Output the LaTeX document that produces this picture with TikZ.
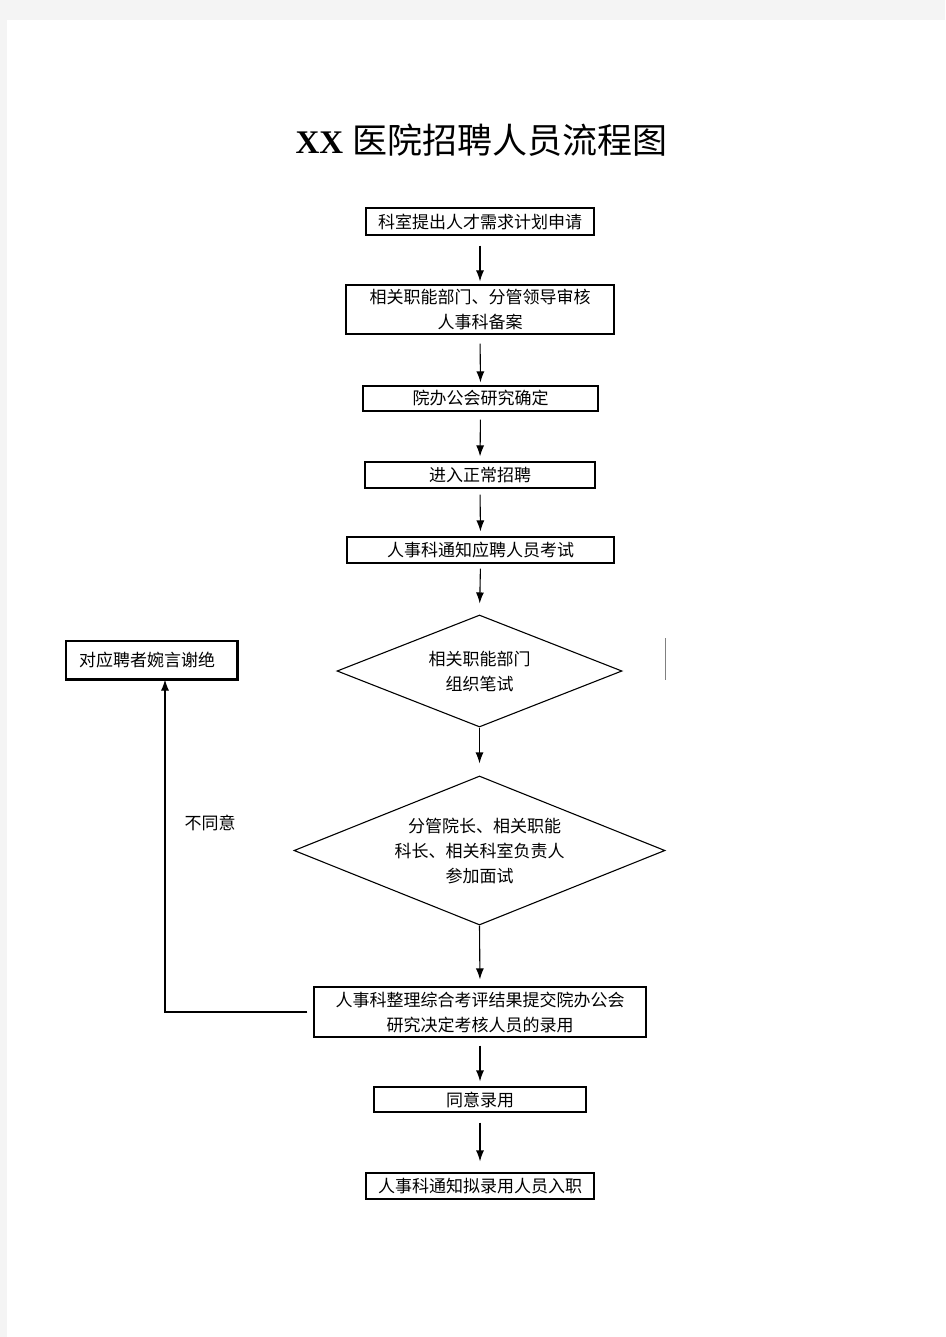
\documentclass[tikz,border=0pt]{standalone}
\usepackage{fontspec}
\setmainfont{Liberation Serif}
\newfontfamily\cjk{Noto Sans CJK SC}
\usetikzlibrary{shapes.geometric,arrows.meta}
\definecolor{pagegray}{HTML}{F4F4F4}

\begin{document}
\begin{tikzpicture}[x=1pt,y=-1pt,line width=1.1pt,>={Latex[length=11pt,width=8pt]},
stepbox/.style={draw,rectangle,inner sep=2pt,align=center,font=\cjk\fontsize{17}{25}\selectfont},
decision/.style={draw,diamond,inner sep=0pt,align=center,font=\cjk\fontsize{17}{25}\selectfont},
note/.style={inner sep=0pt,font=\cjk\fontsize{17}{25}\selectfont}]

% page
\fill[pagegray] (0,0) rectangle (945,1337);
\fill[white] (7,20) rectangle (945,1337);
\useasboundingbox (0,0) rectangle (945,1337);

\draw (481.5,140) node[inner sep=0pt] (title) {{\fontsize{33}{40}\selectfont\bfseries XX}\hspace{9pt}{\cjk\fontsize{35}{40}\selectfont 医院招聘人员流程图}};

\draw (480,221.5) node[stepbox,minimum width=228pt,minimum height=27pt] (apply) {科室提出人才需求计划申请};
\draw (480,309.5) node[stepbox,minimum width=268pt,minimum height=49pt] (audit) {相关职能部门、分管领导审核\\人事科备案};
\draw (480.5,398.5) node[stepbox,minimum width=235pt,minimum height=25pt] (office) {院办公会研究确定};
\draw (480,475) node[stepbox,minimum width=230pt,minimum height=26pt] (enter) {进入正常招聘};
\draw (480.5,550) node[stepbox,minimum width=267pt,minimum height=26pt] (notify) {人事科通知应聘人员考试};
\draw (479.5,671) node[decision,shape aspect=2.54,minimum width=285pt,minimum height=112pt] (written) {相关职能部门\\组织笔试};
\draw (479.5,850.5) node[decision,shape aspect=2.49,minimum width=371pt,minimum height=149pt] (interview) {\hspace{10pt}分管院长、相关职能\\科长、相关科室负责人\\参加面试};
\draw (480,1012) node[stepbox,minimum width=332pt,minimum height=50pt] (result) {人事科整理综合考评结果提交院办公会\\研究决定考核人员的录用};
\draw (480,1099.5) node[stepbox,minimum width=212pt,minimum height=25pt] (agree) {同意录用};
\draw (480,1186) node[stepbox,minimum width=228pt,minimum height=26pt] (onboard) {人事科通知拟录用人员入职};
\draw (151.5,660) node[stepbox,align=left,text width=145pt,inner xsep=13pt,minimum height=38pt] (reject) {对应聘者婉言谢绝};
\draw[line width=2pt] (reject.north east) |- (reject.south west);
\draw (210,823) node[note] (disagree) {不同意};

\draw[->,shorten <=10pt,shorten >=3pt] (apply.south) -- (audit.north);
\draw[->,shorten <=9pt,shorten >=3pt] (audit.south) -- (office.north);
\draw[->,shorten <=8pt,shorten >=5pt] (office.south) -- (enter.north);
\draw[->,shorten <=6pt,shorten >=5pt] (enter.south) -- (notify.north);
\draw[->,shorten <=5pt,shorten >=11pt] (notify.south) -- (written.north);
\draw[->,shorten >=12pt] (written.south) -- (interview.north);
\draw[->,shorten >=7pt] (interview.south) -- (result.north);
\draw[->,shorten <=8pt,shorten >=5pt] (result.south) -- (agree.north);
\draw[->,shorten <=10pt,shorten >=11pt] (agree.south) -- (onboard.north);
\draw[->,shorten <=6pt] (result.west) -| ([xshift=13.5pt]reject.south);

\draw[gray,line width=0.8pt] (665,638) -- (665,680);
\end{tikzpicture}
\end{document}
